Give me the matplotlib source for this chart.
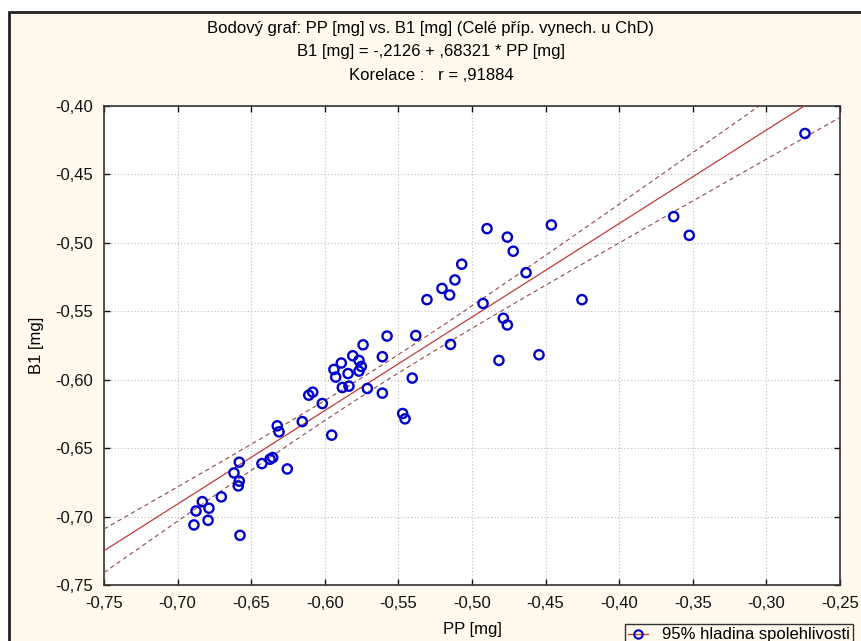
import numpy as np
import matplotlib
matplotlib.use("Agg")
import matplotlib.pyplot as plt
from matplotlib.ticker import FuncFormatter, MultipleLocator
from matplotlib.lines import Line2D
from matplotlib.patches import Rectangle

plt.rcParams['font.family'] = ['Liberation Sans', 'DejaVu Sans']

# ---- data ----
pp = [-0.6889, -0.6875, -0.6832, -0.6793, -0.6787, -0.6703, -0.6617, -0.6588,
      -0.6581, -0.6581, -0.6576, -0.6427, -0.6372, -0.6354, -0.6323, -0.6311,
      -0.6255, -0.6153, -0.6109, -0.6082, -0.6017, -0.5953, -0.5938, -0.5926,
      -0.5888, -0.5881, -0.5842, -0.5836, -0.5810, -0.5768, -0.5752, -0.5768,
      -0.5740, -0.5711, -0.5609, -0.5609, -0.5577, -0.5471, -0.5455, -0.5406,
      -0.5382, -0.5306, -0.5204, -0.5152, -0.5116, -0.5070, -0.5146, -0.4925,
      -0.4898, -0.4817, -0.4787, -0.4760, -0.4760, -0.4720, -0.4633, -0.4545,
      -0.4461, -0.4253, -0.3630, -0.3524, -0.2738]
b1 = [-0.7061, -0.6959, -0.6891, -0.7027, -0.6939, -0.6856, -0.6681, -0.6776,
      -0.6741, -0.6603, -0.7137, -0.6613, -0.6581, -0.6569, -0.6337, -0.6381,
      -0.6652, -0.6306, -0.6113, -0.6091, -0.6174, -0.6405, -0.5925, -0.5981,
      -0.5878, -0.6057, -0.5955, -0.6047, -0.5825, -0.5859, -0.5903, -0.5937,
      -0.5745, -0.6064, -0.5832, -0.6098, -0.5681, -0.6247, -0.6286, -0.5988,
      -0.5677, -0.5415, -0.5333, -0.5381, -0.5271, -0.5156, -0.5742, -0.5443,
      -0.4896, -0.5859, -0.5551, -0.5600, -0.4958, -0.5061, -0.5218, -0.5818,
      -0.4869, -0.5415, -0.4808, -0.4945, -0.4201]
intercept = -0.2126
slope = 0.68321
t_value = 2.0
title_lines = ["Bodový graf: PP [mg] vs. B1 [mg] (Celé příp. vynech. u ChD)",
               "B1 [mg] = -,2126 + ,68321 * PP [mg]",
               "Korelace :   r = ,91884"]
x_label = "PP [mg]"
y_label = "B1 [mg]"
legend_label = "95% hladina spolehlivosti"
xlim = (-0.75, -0.25)
ylim = (-0.75, -0.40)

x = np.array(pp)
y = np.array(b1)
n = len(x)

FS = 12

fig = plt.figure(figsize=(8.62, 6.41), dpi=100)
fig.patch.set_facecolor('white')
# outer frame with cream background
frame = Rectangle((9 / 862, -0.05), 1.1, 1 - 12 / 641 + 0.05, transform=fig.transFigure,
                  facecolor='#FFF9EE', edgecolor='#222222', linewidth=2, zorder=-10)
fig.patches.append(frame)

ax = fig.add_axes([104 / 862, 1 - 585 / 641, (840 - 104) / 862, (585 - 106) / 641])
ax.set_facecolor('white')

xs = np.linspace(xlim[0], xlim[1], 200)
yfit = intercept + slope * xs
resid = y - (intercept + slope * x)
s = np.sqrt(np.sum(resid ** 2) / (n - 2))
sxx = np.sum((x - x.mean()) ** 2)
half = t_value * s * np.sqrt(1.0 / n + (xs - x.mean()) ** 2 / sxx)

ax.plot(xs, yfit, color='#C03A3A', lw=0.9, zorder=3)
ax.plot(xs, yfit + half, color='#8E4A4A', lw=0.8, ls=(0, (4, 3)), zorder=3)
ax.plot(xs, yfit - half, color='#8E4A4A', lw=0.8, ls=(0, (4, 3)), zorder=3)
ax.scatter(x, y, s=44, facecolors='none', edgecolors='#0000CC', linewidths=1.7, zorder=4)

ax.set_xlim(*xlim)
ax.set_ylim(*ylim)
ax.xaxis.set_major_locator(MultipleLocator(0.05))
ax.yaxis.set_major_locator(MultipleLocator(0.05))
fmt = FuncFormatter(lambda v, p: f"{v:.2f}".replace('.', ','))
ax.xaxis.set_major_formatter(fmt)
ax.yaxis.set_major_formatter(fmt)
ax.tick_params(direction='in', length=4, width=1, top=True, right=True,
               labelsize=FS, colors='#111111')
ax.tick_params(axis='x', pad=8)
ax.tick_params(axis='y', pad=8)
ax.grid(True, color='#BBBBBB', ls=(0, (1, 2)), lw=0.8)
for sp in ax.spines.values():
    sp.set_color('#333333')
    sp.set_linewidth(1.2)

ax.set_xlabel(x_label, fontsize=FS, labelpad=8)
ax.set_ylabel(y_label, fontsize=FS, labelpad=8)

for i, line in enumerate(title_lines):
    fig.text(431 / 862, 1 - (28 + 23.5 * i) / 641, line, ha='center', va='center', fontsize=FS)

handle = Line2D([0], [0], color='#C03A3A', lw=0.9, marker='o', markerfacecolor='none',
                markeredgecolor='#0000CC', markeredgewidth=1.5, markersize=6)
fig.legend([handle], [legend_label], loc='upper left',
           bbox_to_anchor=(625 / 862, 1 - 624 / 641), borderaxespad=0,
           frameon=True, fancybox=False,
           edgecolor='#333333', facecolor='#FFF9EE', fontsize=FS, handlelength=1.2,
           borderpad=0.2, framealpha=1)

fig.savefig('out.png', dpi=100, facecolor='white')
